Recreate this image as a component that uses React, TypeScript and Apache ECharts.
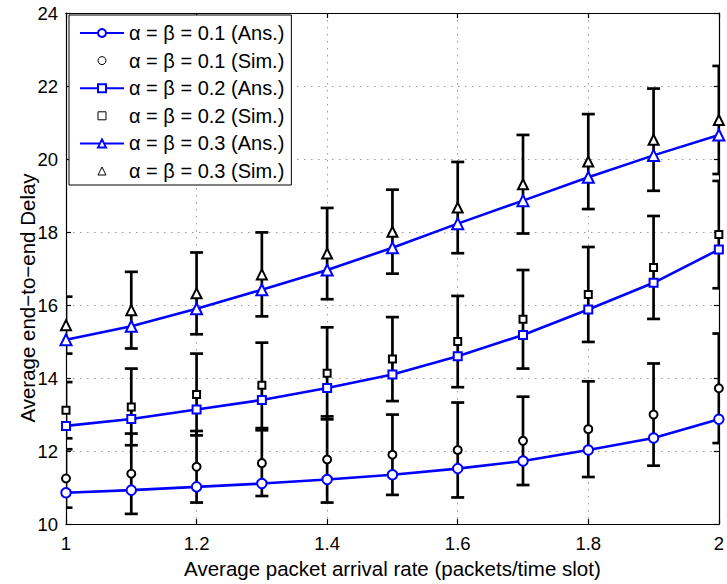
import React, { useEffect, useRef } from "react";
import * as echarts from "echarts";

// x: average packet arrival rate
const xValues = [1.0, 1.1, 1.2, 1.3, 1.4, 1.5, 1.6, 1.7, 1.8, 1.9, 2.0];

// alpha = beta = 0.1
const ans01 = [10.86, 10.93, 11.02, 11.11, 11.22, 11.35, 11.52, 11.73, 12.03, 12.36, 12.87];
const sim01 = [11.25, 11.38, 11.57, 11.67, 11.77, 11.9, 12.03, 12.28, 12.6, 13.0, 13.72];
const err01 = [0.8, 1.1, 0.98, 0.9, 1.18, 1.1, 1.3, 1.21, 1.31, 1.4, 1.5];

// alpha = beta = 0.2
const ans02 = [12.69, 12.88, 13.14, 13.4, 13.73, 14.1, 14.6, 15.18, 15.88, 16.61, 17.52];
const sim02 = [13.12, 13.21, 13.55, 13.8, 14.13, 14.52, 15.0, 15.61, 16.29, 17.03, 17.93];
const err02 = [0.77, 1.05, 1.12, 1.17, 1.26, 1.15, 1.25, 1.35, 1.3, 1.41, 1.47];

// alpha = beta = 0.3
const ans03 = [15.05, 15.42, 15.9, 16.42, 16.96, 17.57, 18.23, 18.86, 19.5, 20.1, 20.66];
const sim03 = [15.45, 15.86, 16.32, 16.84, 17.41, 18.01, 18.67, 19.31, 19.93, 20.53, 21.07];
const err03 = [0.78, 1.05, 1.12, 1.15, 1.25, 1.15, 1.25, 1.35, 1.3, 1.4, 1.48];

const seriesNames = [
  "α = β = 0.1 (Ans.)",
  "α = β = 0.1 (Sim.)",
  "α = β = 0.2 (Ans.)",
  "α = β = 0.2 (Sim.)",
  "α = β = 0.3 (Ans.)",
  "α = β = 0.3 (Sim.)",
];

const xAxisTitle = "Average packet arrival rate (packets/time slot)";
const yAxisTitle = "Average end−to−end Delay";

const FONT = "'Liberation Sans', Arial, Helvetica, sans-serif";
const BLUE = "#0000ff";

const xMin = 1;
const xMax = 2;
const xStep = 0.2;
const yMin = 10;
const yMax = 24;
const yStep = 2;

function pairs(ys: number[]) {
  return xValues.map((x, i) => [x, ys[i]]);
}

function errData(ys: number[], es: number[]) {
  return xValues.map((x, i) => [x, ys[i] - es[i], ys[i] + es[i]]);
}

function errorSeries(ys: number[], es: number[]) {
  return {
    type: "custom",
    xAxisIndex: 0,
    yAxisIndex: 0,
    clip: true,
    z: 2,
    silent: true,
    data: errData(ys, es),
    renderItem: (params: any, api: any) => {
      const x = api.value(0);
      const lo = api.value(1);
      const hi = api.value(2);
      const pTop = api.coord([x, hi]);
      const pBot = api.coord([x, lo]);
      const hw = 6.5;
      const style = { stroke: "#000", lineWidth: 2.7, fill: null };
      return {
        type: "group",
        children: [
          { type: "line", shape: { x1: pTop[0], y1: pTop[1], x2: pBot[0], y2: pBot[1] }, style },
          { type: "line", shape: { x1: pTop[0] - hw, y1: pTop[1], x2: pTop[0] + hw, y2: pTop[1] }, style },
          { type: "line", shape: { x1: pBot[0] - hw, y1: pBot[1], x2: pBot[0] + hw, y2: pBot[1] }, style },
        ],
      };
    },
  };
}

function ansSeries(name: string, ys: number[], symbol: string, size: number) {
  return {
    name,
    type: "line",
    data: pairs(ys),
    symbol,
    symbolSize: size,
    showAllSymbol: true,
    z: 4,
    clip: false,
    lineStyle: { color: BLUE, width: 2.6 },
    itemStyle: { color: BLUE, borderColor: BLUE, borderWidth: 2.2 },
  };
}

// simulation markers: a line series whose line is hidden, so that the legend
// icon keeps a square aspect
function simSeries(name: string, ys: number[], symbol: string, size: number) {
  return {
    name,
    type: "line",
    data: pairs(ys),
    symbol,
    symbolSize: size,
    showAllSymbol: true,
    z: 3,
    clip: false,
    lineStyle: { opacity: 0, width: 0 },
    itemStyle: { color: "#fff", borderColor: "#000", borderWidth: 2 },
  };
}

export default function App() {
  const ref = useRef<HTMLDivElement>(null);

  useEffect(() => {
    if (!ref.current) return;
    const chart = echarts.init(ref.current, undefined, { renderer: "svg" });

    const gridLine = { show: true, lineStyle: { color: "#999", width: 1, type: [1.5, 5.5] } };
    const axisLine = { show: true, onZero: false, lineStyle: { color: "#000", width: 1.2 } };
    const axisTick = { show: true, inside: true, length: 5, lineStyle: { color: "#000", width: 1.2 } };

    const simLegendStyle = { color: "#fff", borderColor: "#000", borderWidth: 1 };

    const option: any = {
      animation: false,
      backgroundColor: "#fff",
      textStyle: { fontFamily: FONT },
      grid: { left: 66, right: 6, top: 13, bottom: 57, containLabel: false },
      graphic: [
        {
          type: "text",
          x: 27,
          y: 298,
          rotation: Math.PI / 2,
          silent: true,
          style: {
            text: yAxisTitle,
            fill: "#000",
            font: "20.5px " + FONT,
            align: "center",
            verticalAlign: "middle",
          },
        },
      ],
      xAxis: [
        {
          type: "value",
          min: xMin,
          max: xMax,
          interval: xStep,
          position: "bottom",
          axisLine,
          axisTick,
          splitLine: gridLine,
          axisLabel: {
            color: "#000",
            fontSize: 18.5,
            fontFamily: FONT,
            margin: 10,
            formatter: (v: number) => String(parseFloat(v.toFixed(1))),
          },
          name: xAxisTitle,
          nameLocation: "middle",
          nameGap: 29,
          nameTextStyle: { color: "#000", fontSize: 20.5, fontFamily: FONT },
        },
        {
          type: "value",
          min: xMin,
          max: xMax,
          interval: xStep,
          position: "top",
          axisLine,
          axisTick,
          splitLine: { show: false },
          axisLabel: { show: false },
        },
      ],
      yAxis: [
        {
          type: "value",
          min: yMin,
          max: yMax,
          interval: yStep,
          position: "left",
          axisLine,
          axisTick,
          splitLine: gridLine,
          axisLabel: { color: "#000", fontSize: 18.5, fontFamily: FONT, margin: 8 },
        },
        {
          type: "value",
          min: yMin,
          max: yMax,
          interval: yStep,
          position: "right",
          axisLine,
          axisTick,
          splitLine: { show: false },
          axisLabel: { show: false },
        },
      ],
      legend: {
        show: true,
        orient: "vertical",
        left: 69,
        top: 15,
        selectedMode: false,
        backgroundColor: "#fff",
        borderColor: "#000",
        borderWidth: 1,
        padding: [8, 7, 4, 10],
        itemGap: 7.6,
        itemWidth: 44,
        itemHeight: 10,
        z: 10,
        textStyle: { color: "#000", fontSize: 20, fontFamily: FONT },
        data: [
          { name: seriesNames[0] },
          { name: seriesNames[1], itemStyle: simLegendStyle },
          { name: seriesNames[2] },
          { name: seriesNames[3], itemStyle: simLegendStyle },
          { name: seriesNames[4] },
          { name: seriesNames[5], itemStyle: simLegendStyle },
        ],
      },
      series: [
        errorSeries(sim01, err01),
        errorSeries(sim02, err02),
        errorSeries(sim03, err03),
        simSeries(seriesNames[1], sim01, "circle", 8),
        simSeries(seriesNames[3], sim02, "rect", 7),
        simSeries(seriesNames[5], sim03, "triangle", 10),
        ansSeries(seriesNames[0], ans01, "emptyCircle", 9.5),
        ansSeries(seriesNames[2], ans02, "emptyRect", 8),
        ansSeries(seriesNames[4], ans03, "emptyTriangle", 11),
      ],
    };

    chart.setOption(option);
    return () => {
      chart.dispose();
    };
  }, []);

  return (
    <div
      ref={ref}
      style={{ position: "fixed", left: 0, top: 0, width: 727, height: 584, background: "#fff" }}
    />
  );
}
